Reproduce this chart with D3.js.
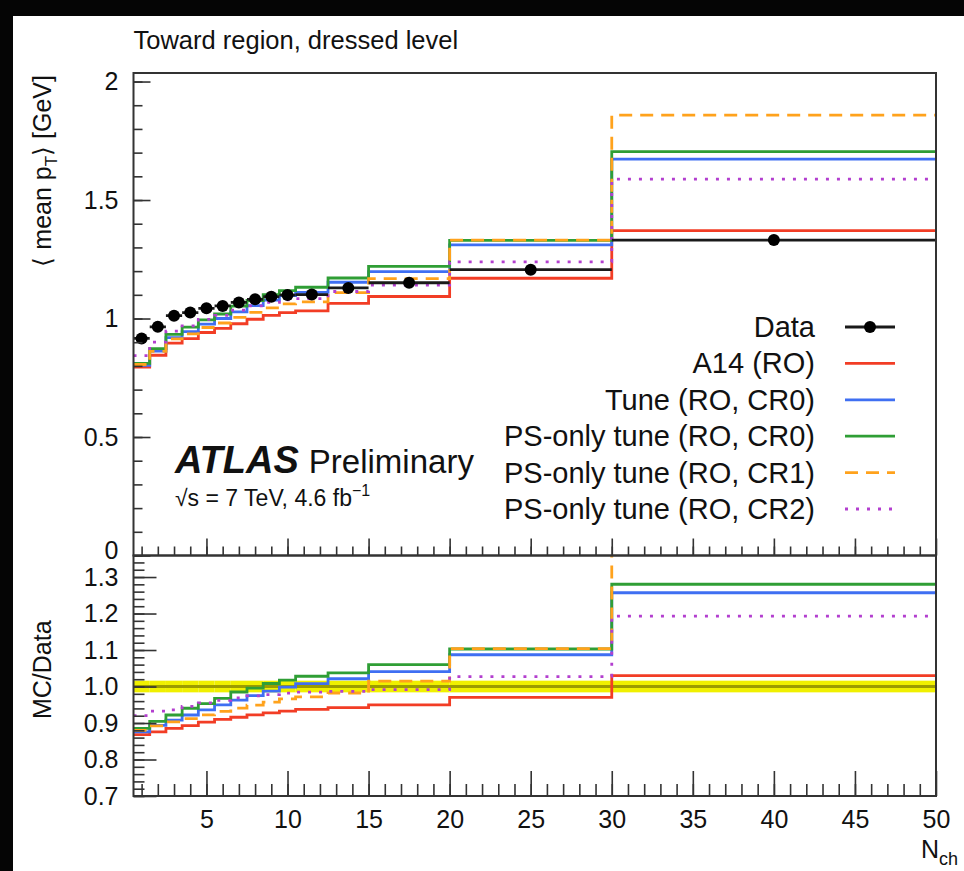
<!DOCTYPE html>
<html>
<head>
<meta charset="utf-8">
<script src="https://cdn.jsdelivr.net/npm/d3@7"></script>
<style>
  html, body { margin: 0; padding: 0; background: #000; }
  svg { display: block; }
  text { font-family: "Liberation Sans", Arial, Helvetica, sans-serif; fill: #111; }
</style>
</head>
<body>
<svg id="chart" width="964" height="871"></svg>
<script>
// Bin edges in N_ch
const binEdges = [0.5, 1.5, 2.5, 3.5, 4.5, 5.5, 6.5, 7.5, 8.5, 9.5, 10.5, 12.5, 15, 20, 30, 50];
// Bin centres used for the data markers
const binCentres = [1, 2, 3, 4, 5, 6, 7, 8, 9, 10, 11.5, 13.75, 17.5, 25, 40];

// Mean pT [GeV] per bin
const dataMean = [0.916, 0.965, 1.012, 1.025, 1.043, 1.053, 1.068, 1.081, 1.092, 1.099, 1.101, 1.129, 1.151, 1.206, 1.331];
const dataRelErr = [0.016, 0.016, 0.016, 0.016, 0.016, 0.016, 0.016, 0.016, 0.016, 0.016, 0.016, 0.016, 0.016, 0.016, 0.016];
const a14RO     = [0.795, 0.845, 0.896, 0.915, 0.941, 0.958, 0.978, 0.997, 1.013, 1.025, 1.032, 1.064, 1.093, 1.170, 1.371];
const tuneCR0   = [0.802, 0.862, 0.919, 0.945, 0.976, 1.000, 1.028, 1.054, 1.078, 1.097, 1.110, 1.153, 1.198, 1.311, 1.673];
const psOnlyCR0 = [0.811, 0.873, 0.933, 0.964, 0.994, 1.019, 1.052, 1.076, 1.101, 1.118, 1.132, 1.171, 1.220, 1.330, 1.704];
const psOnlyCR1 = [0.806, 0.861, 0.914, 0.935, 0.962, 0.981, 1.005, 1.026, 1.045, 1.062, 1.070, 1.109, 1.168, 1.331, 1.858];
const psOnlyCR2 = [0.843, 0.900, 0.947, 0.969, 0.996, 1.013, 1.035, 1.053, 1.068, 1.079, 1.084, 1.114, 1.141, 1.239, 1.588];

const xTickLabels = [5, 10, 15, 20, 25, 30, 35, 40, 45, 50];
const yTickLabelsTop = [0, 0.5, 1, 1.5, 2];
const yTickLabelsRatio = [0.7, 0.8, 0.9, 1.0, 1.1, 1.2, 1.3];

const seriesList = [
  { name: "A14 (RO)",                values: a14RO,     color: "#f23d25", dash: null },
  { name: "Tune (RO, CR0)",          values: tuneCR0,   color: "#3f6ff2", dash: null },
  { name: "PS-only tune (RO, CR0)",  values: psOnlyCR0, color: "#2f9e35", dash: null },
  { name: "PS-only tune (RO, CR1)",  values: psOnlyCR1, color: "#ffa21c", dash: "13,8" },
  { name: "PS-only tune (RO, CR2)",  values: psOnlyCR2, color: "#b33fcf", dash: "3,8" }
];

const svg = d3.select("#chart");

// page: dark margin on the top and left, white canvas
svg.append("rect").attr("width", 964).attr("height", 871).attr("fill", "#050505");
svg.append("rect").attr("x", 13).attr("y", 16).attr("width", 951).attr("height", 855).attr("fill", "#ffffff");

const X0 = 133.5, X1 = 936;
const topPanel = { y0: 73, y1: 555.5 };
const ratioPanel = { y0: 555.5, y1: 796 };

const x = d3.scaleLinear().domain([0.5, 50]).range([X0, X1]);
const yTop = d3.scaleLinear().domain([0, 2.036]).range([topPanel.y1, topPanel.y0]);
const yRatio = d3.scaleLinear().domain([0.7, 1.359]).range([ratioPanel.y1, ratioPanel.y0]);

const defs = svg.append("defs");
defs.append("clipPath").attr("id", "clipTop").append("rect")
  .attr("x", X0).attr("y", topPanel.y0).attr("width", X1 - X0).attr("height", topPanel.y1 - topPanel.y0);
defs.append("clipPath").attr("id", "clipRatio").append("rect")
  .attr("x", X0).attr("y", ratioPanel.y0).attr("width", X1 - X0).attr("height", ratioPanel.y1 - ratioPanel.y0);

// histogram outline as a step path
function stepPoints(values) {
  const pts = [];
  values.forEach((v, i) => {
    pts.push([binEdges[i], v]);
    pts.push([binEdges[i + 1], v]);
  });
  return pts;
}

function drawSteps(g, yScale, values, color, dash) {
  const line = d3.line().x(d => x(d[0])).y(d => yScale(d[1]));
  g.append("path")
    .attr("d", line(stepPoints(values)))
    .attr("fill", "none")
    .attr("stroke", color)
    .attr("stroke-width", 2.8)
    .attr("stroke-dasharray", dash)
    .attr("stroke-linejoin", "miter");
}

// ---------- upper panel ----------
const gTop = svg.append("g").attr("clip-path", "url(#clipTop)");
seriesList.forEach(s => drawSteps(gTop, yTop, s.values, s.color, s.dash));

// data: horizontal bin-width bars and markers
gTop.selectAll("line.dataBar").data(dataMean).enter().append("line")
  .attr("x1", (d, i) => x(binEdges[i])).attr("x2", (d, i) => x(binEdges[i + 1]))
  .attr("y1", d => yTop(d)).attr("y2", d => yTop(d))
  .attr("stroke", "#1a1a1a").attr("stroke-width", 2.8);
gTop.selectAll("circle.dataPt").data(dataMean).enter().append("circle")
  .attr("cx", (d, i) => x(binCentres[i])).attr("cy", d => yTop(d))
  .attr("r", 6).attr("fill", "#000");

// ---------- ratio panel ----------
const gRatio = svg.append("g").attr("clip-path", "url(#clipRatio)");
gRatio.selectAll("rect.band").data(dataRelErr).enter().append("rect")
  .attr("x", (d, i) => x(binEdges[i])).attr("width", (d, i) => x(binEdges[i + 1]) - x(binEdges[i]))
  .attr("y", d => yRatio(1 + d)).attr("height", d => yRatio(1 - d) - yRatio(1 + d))
  .attr("fill", "#f0f000");
gRatio.append("line")
  .attr("x1", X0).attr("x2", X1).attr("y1", yRatio(1)).attr("y2", yRatio(1))
  .attr("stroke", "#9c9c00").attr("stroke-width", 3);
seriesList.forEach(s => {
  const ratio = s.values.map((v, i) => v / dataMean[i]);
  drawSteps(gRatio, yRatio, ratio, s.color, s.dash);
});

// ---------- axes ----------
function range(a, b, step) {
  const out = [];
  for (let v = a; v <= b + 1e-9; v += step) out.push(+v.toFixed(4));
  return out;
}
const axisStyle = g => {
  g.select(".domain").remove();
  g.selectAll(".tick line").attr("stroke", "#333").attr("stroke-width", 1.6);
  g.selectAll(".tick text").attr("font-size", 25).attr("fill", "#111")
    .attr("font-family", "'Liberation Sans', Arial, sans-serif");
};

// upper y axis
svg.append("g").attr("transform", `translate(${X0},0)`)
  .call(d3.axisLeft(yTop).tickValues(range(0, 2, 0.1)).tickSize(-9).tickFormat(""))
  .call(axisStyle);
svg.append("g").attr("transform", `translate(${X0},0)`)
  .call(d3.axisLeft(yTop).tickValues(yTickLabelsTop).tickSize(-17).tickPadding(15).tickFormat(d3.format("")))
  .call(axisStyle)
  .call(g => g.selectAll(".tick text").filter(d => d === 0).attr("dy", "0.1em"));

// upper x axis ticks (no labels)
svg.append("g").attr("transform", `translate(0,${topPanel.y1})`)
  .call(d3.axisBottom(x).tickValues(range(1, 49, 1)).tickSize(-9).tickFormat(""))
  .call(axisStyle);
svg.append("g").attr("transform", `translate(0,${topPanel.y1})`)
  .call(d3.axisBottom(x).tickValues(xTickLabels).tickSize(-17).tickFormat(""))
  .call(axisStyle);

// ratio y axis
svg.append("g").attr("transform", `translate(${X0},0)`)
  .call(d3.axisLeft(yRatio).tickValues(range(0.7, 1.35, 0.02)).tickSize(-11).tickFormat(""))
  .call(axisStyle);
svg.append("g").attr("transform", `translate(${X0},0)`)
  .call(d3.axisLeft(yRatio).tickValues(yTickLabelsRatio).tickSize(-23).tickPadding(15).tickFormat(d3.format(".1f")))
  .call(axisStyle);

// ratio x axis
svg.append("g").attr("transform", `translate(0,${ratioPanel.y1})`)
  .call(d3.axisBottom(x).tickValues(range(1, 49, 1)).tickSize(-12).tickFormat(""))
  .call(axisStyle);
svg.append("g").attr("transform", `translate(0,${ratioPanel.y1})`)
  .call(d3.axisBottom(x).tickValues(xTickLabels).tickSize(-25).tickPadding(14).tickFormat(d3.format("d")))
  .call(axisStyle);

// frames
[topPanel, ratioPanel].forEach(p => {
  svg.append("rect").attr("x", X0).attr("y", p.y0)
    .attr("width", X1 - X0).attr("height", p.y1 - p.y0)
    .attr("fill", "none").attr("stroke", "#333").attr("stroke-width", 2);
});

// ---------- titles ----------
svg.append("text").attr("x", X0).attr("y", 49)
  .attr("font-size", 25.5).text("Toward region, dressed level");

const yTitle = svg.append("text")
  .attr("transform", `translate(51,${topPanel.y0 + 2}) rotate(-90)`)
  .attr("text-anchor", "end").attr("font-size", 25);
yTitle.append("tspan").text("\u27E8 mean p");
yTitle.append("tspan").attr("font-size", 17).attr("dy", 6).text("T");
yTitle.append("tspan").attr("dy", -6).text("\u27E9 [GeV]");

svg.append("text")
  .attr("transform", `translate(51,${(ratioPanel.y0 + ratioPanel.y1) / 2 - 6}) rotate(-90)`)
  .attr("text-anchor", "middle").attr("font-size", 25).text("MC/Data");

const xTitle = svg.append("text").attr("x", 958).attr("y", 858)
  .attr("text-anchor", "end").attr("font-size", 25);
xTitle.append("tspan").text("N");
xTitle.append("tspan").attr("font-size", 18).attr("dy", 7).text("ch");

// ATLAS label
const atlas = svg.append("text").attr("x", 175).attr("y", 473);
atlas.append("tspan").attr("font-size", 38).attr("font-weight", "bold").attr("font-style", "italic").text("ATLAS");
atlas.append("tspan").attr("font-size", 33).attr("dx", 10).text("Preliminary");

const energy = svg.append("text").attr("x", 175).attr("y", 506).attr("font-size", 23);
energy.append("tspan").text("\u221As = 7 TeV, 4.6 fb");
energy.append("tspan").attr("font-size", 16).attr("dy", -10).text("\u22121");

// ---------- legend ----------
const legendRows = [{ name: "Data", color: "#1a1a1a", dash: null, marker: true }]
  .concat(seriesList.map(s => ({ name: s.name, color: s.color, dash: s.dash, marker: false })));
const legendY = d3.scalePoint().domain(legendRows.map(d => d.name)).range([327, 509]);
const lg = svg.append("g");
legendRows.forEach(r => {
  const yy = legendY(r.name);
  lg.append("text").attr("x", 815).attr("y", yy + 10).attr("text-anchor", "end")
    .attr("font-size", 29).text(r.name);
  lg.append("line").attr("x1", 845).attr("x2", 895).attr("y1", yy).attr("y2", yy)
    .attr("stroke", r.color).attr("stroke-width", 2.8).attr("stroke-dasharray", r.dash);
  if (r.marker) lg.append("circle").attr("cx", 870).attr("cy", yy).attr("r", 6).attr("fill", "#000");
});
</script>
</body>
</html>
